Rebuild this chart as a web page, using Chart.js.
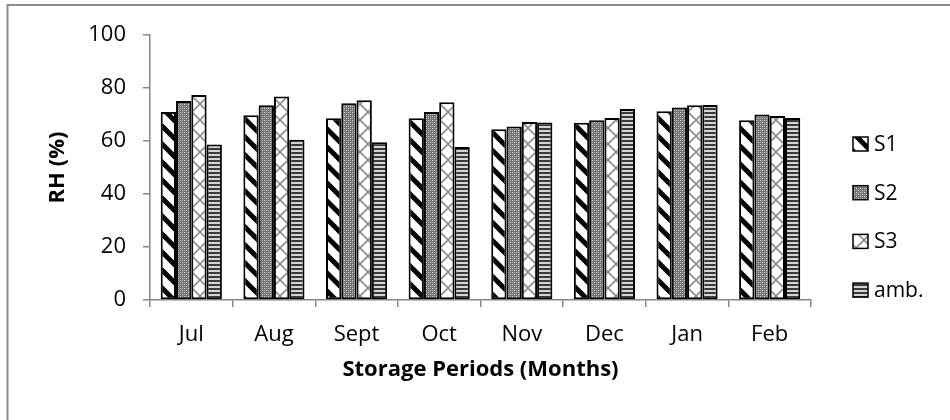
<!DOCTYPE html>
<html>
<head>
<meta charset="utf-8">
<script src="https://cdn.jsdelivr.net/npm/chart.js@4/dist/chart.umd.min.js"></script>
<style>
  html, body { margin: 0; padding: 0; background: #ffffff; }
  canvas { display: block; }
</style>
</head>
<body>
<canvas id="c" width="950" height="420"></canvas>
<script>
const months = ['Jul', 'Aug', 'Sept', 'Oct', 'Nov', 'Dec', 'Jan', 'Feb'];
const s1  = [70.9, 69.7, 68.6, 68.6, 64.4, 66.9, 71.2, 67.8];
const s2  = [75.1, 73.5, 74.2, 70.9, 65.5, 67.8, 72.6, 70.0];
const s3  = [77.4, 76.8, 75.4, 74.6, 67.2, 68.7, 73.5, 69.4];
const amb = [58.7, 60.5, 59.5, 57.7, 67.0, 72.1, 73.6, 68.7];
const seriesNames = ['S1', 'S2', 'S3', 'amb.'];
const yTicks = [0, 20, 40, 60, 80, 100];

const FONT = "'Open Sans', 'Noto Sans', sans-serif";
const AXIS = '#868686';

function tile(size, draw) {
  const cv = document.createElement('canvas');
  cv.width = size; cv.height = size;
  const g = cv.getContext('2d');
  draw(g, size);
  return document.getElementById('c').getContext('2d').createPattern(cv, 'repeat');
}
const patS1 = tile(18, (g, n) => {
  g.fillStyle = '#fff'; g.fillRect(0, 0, n, n);
  g.strokeStyle = '#000'; g.lineWidth = 5;
  for (let k = -1; k <= 1; k++) { g.beginPath(); g.moveTo(k * n - 2, -2); g.lineTo(k * n + n + 2, n + 2); g.stroke(); }
});
const patS2 = tile(4, (g, n) => {
  g.fillStyle = '#747474'; g.fillRect(0, 0, n, n);
  g.fillStyle = '#d6d6d6'; g.fillRect(0, 0, 1, 1); g.fillRect(2, 2, 1, 1);
  g.fillStyle = '#a6a6a6'; g.fillRect(2, 0, 1, 1); g.fillRect(0, 2, 1, 1);
});
const patS3 = tile(16, (g, n) => {
  g.fillStyle = '#fff'; g.fillRect(0, 0, n, n);
  g.strokeStyle = '#8c8c8c'; g.lineWidth = 1.6;
  for (let k = -1; k <= 1; k++) {
    g.beginPath(); g.moveTo(k * n, 0); g.lineTo(k * n + n, n); g.stroke();
    g.beginPath(); g.moveTo(k * n + n, 0); g.lineTo(k * n, n); g.stroke();
  }
});
const patAmb = tile(4, (g, n) => {
  g.fillStyle = '#d4d4d4'; g.fillRect(0, 0, n, n);
  g.fillStyle = '#3a3a3a'; g.fillRect(0, 0, n, 2);
});
const patterns = [patS1, patS2, patS3, patAmb];
const values = [s1, s2, s3, amb];

const frame = {
  id: 'frame',
  beforeDraw(chart) {
    const ctx = chart.ctx;
    ctx.save();
    ctx.fillStyle = '#fff';
    ctx.fillRect(0, 0, chart.width, chart.height);
    ctx.strokeStyle = '#8c8c8c';
    ctx.lineWidth = 2;
    ctx.strokeRect(7.5, 5, 2000, 2000);
    ctx.restore();
  }
};

const sideLegend = {
  id: 'sideLegend',
  afterDraw(chart) {
    const ctx = chart.ctx;
    ctx.save();
    chart.data.datasets.forEach((ds, i) => {
      const cy = 144 + i * 48.7;
      ctx.fillStyle = ds.backgroundColor;
      ctx.fillRect(853, cy - 7, 15, 14);
      ctx.strokeStyle = '#000';
      ctx.lineWidth = 1.5;
      ctx.strokeRect(853, cy - 7, 15, 14);
      ctx.fillStyle = '#000';
      ctx.font = '21px ' + FONT;
      ctx.textBaseline = 'middle';
      ctx.textAlign = 'left';
      ctx.fillText(ds.label, 874, cy + 1);
    });
    ctx.restore();
  }
};

new Chart(document.getElementById('c'), {
  type: 'bar',
  data: {
    labels: months,
    datasets: seriesNames.map((name, i) => ({
      label: name,
      data: values[i],
      backgroundColor: patterns[i],
      borderColor: '#000',
      borderWidth: 2,
      borderSkipped: false,
      categoryPercentage: 0.74,
      barPercentage: 1.0
    }))
  },
  options: {
    responsive: false,
    animation: false,
    devicePixelRatio: 1,
    layout: { padding: { left: 0, right: 139, top: 35, bottom: 0 } },
    plugins: { legend: { display: false }, tooltip: { enabled: false } },
    scales: {
      x: {
        afterFit(scale) { scale.height = 120; },
        grid: { display: true, drawOnChartArea: false, drawTicks: true, tickLength: 7, color: AXIS, lineWidth: 1.5, offset: true },
        border: { display: true, color: AXIS, width: 1.5 },
        ticks: { color: '#000', font: { family: FONT, size: 22 }, padding: 15, maxRotation: 0 },
        title: { display: true, text: 'Storage Periods (Months)', color: '#000', font: { family: FONT, size: 22, weight: 'bold' }, padding: { top: 0, bottom: 37 } }
      },
      y: {
        min: 0, max: 100,
        afterFit(scale) { scale.width = 150; },
        afterBuildTicks(scale) { scale.ticks = yTicks.map(v => ({ value: v })); },
        grid: { display: true, drawOnChartArea: false, drawTicks: true, tickLength: 7, color: AXIS, lineWidth: 1.5 },
        border: { display: true, color: AXIS, width: 1.5 },
        ticks: { color: '#000', font: { family: FONT, size: 22 }, padding: 17 },
        title: { display: true, text: 'RH (%)', color: '#000', font: { family: FONT, size: 22, weight: 'bold' }, padding: { top: 45, bottom: 0 } }
      }
    }
  },
  plugins: [frame, sideLegend]
});
</script>
</body>
</html>
